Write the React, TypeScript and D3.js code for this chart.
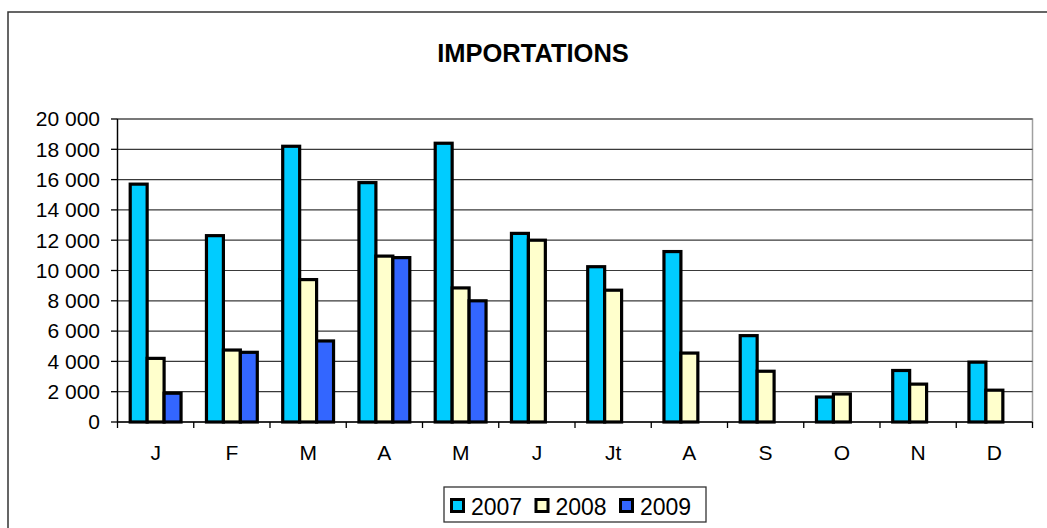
import React from "react";
import * as d3 from "d3";

const months = ["J", "F", "M", "A", "M ", "J ", "Jt", "A ", "S", "O", "N", "D"];
const monthLabels = ["J", "F", "M", "A", "M", "J", "Jt", "A", "S", "O", "N", "D"];
const series = ["2007", "2008", "2009"];
const values2007 = [15700, 12300, 18200, 15800, 18400, 12450, 10250, 11250, 5700, 1650, 3400, 3950];
const values2008 = [4200, 4750, 9400, 10950, 8850, 12000, 8700, 4550, 3350, 1850, 2500, 2100];
const values2009: (number | null)[] = [1900, 4600, 5350, 10850, 8000, null, null, null, null, null, null, null];
const colors = ["#00CCFF", "#FFFFCC", "#3366FF"];
const yTicks = [0, 2000, 4000, 6000, 8000, 10000, 12000, 14000, 16000, 18000, 20000];

const FONT = "'Liberation Sans', Arial, Helvetica, sans-serif";

export default function App() {
  const W = 1047;
  const H = 528;
  const left = 117.5;
  const right = 1032.5;
  const top = 119;
  const bottom = 422;

  const x0 = d3.scaleBand<string>().domain(months).range([left, right]).paddingInner(0).paddingOuter(0);
  const x1 = d3.scaleBand<string>().domain(series).range([0, x0.bandwidth()]).paddingInner(0).paddingOuter(0.75);
  const y = d3.scaleLinear().domain([0, 20000]).range([bottom, top]);
  const locale = d3.formatLocale({ decimal: ",", thousands: " ", grouping: [3], currency: ["", " €"] });
  const fmt = locale.format(",d");

  const data = [values2007, values2008, values2009];

  const boundaries = months.map((m) => x0(m) as number).concat([right]);

  const legendX = 444;
  const legendY = 487;
  const legendW = 262;
  const legendH = 35;
  const legendStep = 84.5;

  return (
    <svg width={W} height={H} style={{ position: "absolute", left: 0, top: 0, display: "block" }} fontFamily={FONT}>
      <rect x={0} y={0} width={W} height={H} fill="#ffffff" />
      {/* outer chart border */}
      <rect x={8} y={12} width={1200} height={800} fill="none" stroke="#333" strokeWidth={1.5} />
      {/* title */}
      <text x={533} y={62} textAnchor="middle" fontSize={25.5} fontWeight="bold" fill="#000">
        IMPORTATIONS
      </text>
      {/* plot area border */}
      <rect x={left} y={top} width={right - left} height={bottom - top} fill="#fff" stroke="#a0a0a0" strokeWidth={1.5} />
      {/* gridlines */}
      {yTicks.filter((t) => t > 0).map((t) => (
        <line key={"g" + t} x1={left} x2={right} y1={y(t)} y2={y(t)} stroke="#3a3a3a" strokeWidth={1.2} />
      ))}
      {/* y axis */}
      <line x1={left} x2={left} y1={top} y2={bottom} stroke="#000" strokeWidth={1.3} />
      {yTicks.map((t) => (
        <g key={"yt" + t}>
          <line x1={111} x2={left} y1={y(t)} y2={y(t)} stroke="#000" strokeWidth={1.3} />
          <text x={100} y={y(t)} dy="0.35em" textAnchor="end" fontSize={21} fill="#000">
            {fmt(t)}
          </text>
        </g>
      ))}
      {/* bars */}
      {data.map((vals, si) =>
        vals.map((v, i) =>
          v == null ? null : (
            <rect
              key={si + "-" + i}
              x={(x0(months[i]) as number) + (x1(series[si]) as number)}
              y={y(v)}
              width={x1.bandwidth()}
              height={bottom - y(v)}
              fill={colors[si]}
              stroke="#000"
              strokeWidth={3.2}
            />
          )
        )
      )}
      {/* x axis */}
      <line x1={left} x2={right} y1={bottom} y2={bottom} stroke="#000" strokeWidth={1.3} />
      {boundaries.map((b, i) => (
        <line key={"xt" + i} x1={b} x2={b} y1={bottom} y2={428} stroke="#000" strokeWidth={1.3} />
      ))}
      {months.map((m, i) => (
        <text key={"xl" + i} x={(x0(m) as number) + x0.bandwidth() / 2} y={460} textAnchor="middle" fontSize={21} fill="#000">
          {monthLabels[i]}
        </text>
      ))}
      {/* legend */}
      <rect x={legendX} y={legendY} width={legendW} height={legendH} fill="#fff" stroke="#333" strokeWidth={1.3} />
      {series.map((s, i) => {
        const lx = legendX + 7.5 + i * legendStep;
        return (
          <g key={"lg" + s}>
            <rect x={lx} y={499.5} width={12} height={12} fill={colors[i]} stroke="#000" strokeWidth={3} />
            <text x={lx + 19.5} y={514.5} fontSize={23} fill="#000">
              {s}
            </text>
          </g>
        );
      })}
    </svg>
  );
}
